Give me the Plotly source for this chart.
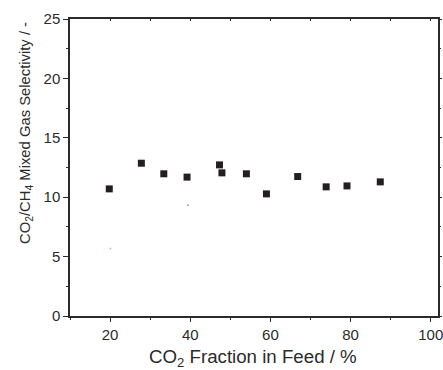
import plotly.graph_objects as go

co2_fraction = [19.8, 27.8, 33.4, 39.2, 47.3, 47.9, 54.0, 59.0, 66.8, 73.9, 79.1, 87.4]
selectivity = [10.7, 12.86, 11.97, 11.69, 12.72, 12.05, 11.97, 10.28, 11.74, 10.87, 10.95, 11.29]

# tiny stray marks visible in the reference
stray_x_red = [20.1]
stray_y_red = [5.68]
stray_x_gray = [39.4]
stray_y_gray = [9.33]

x_ticks = [20, 40, 60, 80, 100]
y_ticks = [0, 5, 10, 15, 20, 25]

x_title = "CO<sub>2</sub> Fraction in Feed / %"
y_title = "CO<sub>2</sub>/CH<sub>4</sub> Mixed Gas Selectivity / -"

axis_color = "#2b2b2b"
font_family = "Liberation Sans, Arial, sans-serif"

fig = go.Figure()
fig.add_trace(go.Scatter(
    x=co2_fraction, y=selectivity, mode="markers",
    marker=dict(symbol="square", size=7, color="#231f20", line=dict(width=0)),
    showlegend=False, hoverinfo="x+y"))
fig.add_trace(go.Scatter(
    x=stray_x_red, y=stray_y_red, mode="markers",
    marker=dict(symbol="square", size=1.5, color="#f4a090"), showlegend=False))
fig.add_trace(go.Scatter(
    x=stray_x_gray, y=stray_y_gray, mode="markers",
    marker=dict(symbol="square", size=1.5, color="#888888"), showlegend=False))

fig.update_layout(
    width=443, height=370,
    margin=dict(l=70, r=5, t=19, b=54, autoexpand=False),
    paper_bgcolor="white", plot_bgcolor="white",
    font=dict(family=font_family, color=axis_color, size=15),
    xaxis=dict(
        range=[10, 101.8], tickmode="array", tickvals=x_ticks, automargin=False,
        ticks="outside", ticklen=4, tickwidth=1.2, tickcolor=axis_color,
        minor=dict(ticks="outside", ticklen=2, tickwidth=1, tickcolor=axis_color, dtick=10, tick0=0),
        showline=True, linecolor=axis_color, linewidth=1.5,
        showgrid=False, zeroline=False, ticklabeloverflow="allow",
        tickfont=dict(size=15, color=axis_color),
    ),
    yaxis=dict(
        range=[0, 25], tickmode="array", tickvals=y_ticks, automargin=False,
        ticks="outside", ticklen=5, tickwidth=1.2, tickcolor=axis_color,
        minor=dict(ticks="outside", ticklen=2.5, tickwidth=1, tickcolor=axis_color, dtick=2.5, tick0=0),
        showline=True, linecolor=axis_color, linewidth=1.5,
        showgrid=False, zeroline=False, ticklabeloverflow="allow",
        tickfont=dict(size=15, color=axis_color),
    ),
    xaxis2=dict(
        overlaying="x", side="top", matches="x", range=[10, 101.8], automargin=False,
        tickmode="array", tickvals=x_ticks, showticklabels=False,
        ticks="inside", ticklen=2, tickwidth=1, tickcolor=axis_color,
        minor=dict(ticks="inside", ticklen=2, tickwidth=1, tickcolor=axis_color, dtick=10, tick0=0),
        showline=True, linecolor=axis_color, linewidth=1.5, showgrid=False, zeroline=False,
    ),
    yaxis2=dict(
        overlaying="y", side="right", range=[0, 25], automargin=False,
        tickmode="array", tickvals=y_ticks, showticklabels=False,
        ticks="outside", ticklen=2, tickwidth=1, tickcolor=axis_color,
        minor=dict(ticks="outside", ticklen=1, tickwidth=1, tickcolor=axis_color, dtick=2.5, tick0=0),
        showline=True, linecolor=axis_color, linewidth=1.5, showgrid=False, zeroline=False,
    ),
    annotations=[
        dict(text=x_title, xref="paper", yref="paper", x=0.5, y=0, xshift=-1, yshift=-42,
             xanchor="center", yanchor="middle", showarrow=False,
             font=dict(size=18.7, color=axis_color, family=font_family)),
        dict(text=y_title, xref="paper", yref="paper", x=0, y=1, xshift=-44, yshift=-114,
             xanchor="center", yanchor="middle", showarrow=False, textangle=-90,
             font=dict(size=14.8, color=axis_color, family=font_family)),
    ],
)
fig.add_trace(go.Scatter(x=[None], y=[None], xaxis="x2", yaxis="y2", showlegend=False, hoverinfo="skip"))

fig.write_html("out.html")
